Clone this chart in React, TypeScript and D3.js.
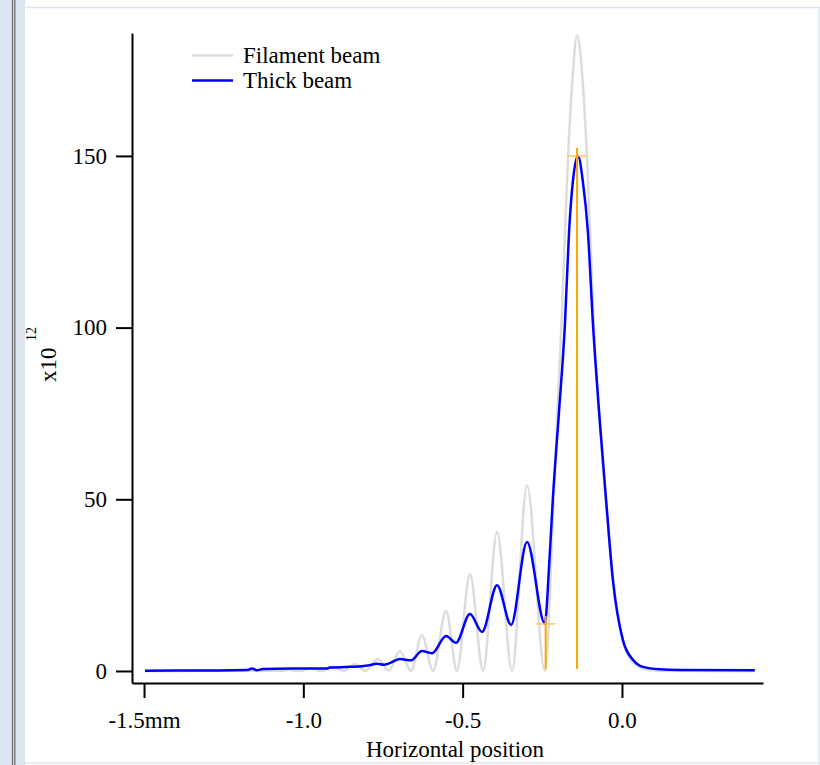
import React, { useRef, useEffect } from "react";
import * as d3 from "d3";

// values (x in mm, y in units of 1e12)
const filamentX = [
  -1.497, -1.325, -1.23, -1.199, -1.064, -1.045, -1.011, -0.976, -0.942, -0.907,
  -0.873, -0.838, -0.804, -0.766, -0.731, -0.697, -0.662, -0.628, -0.593, -0.552,
  -0.518, -0.477, -0.436, -0.392, -0.345, -0.298, -0.242, -0.232, -0.223, -0.21,
  -0.198, -0.188, -0.179, -0.169, -0.157, -0.141, -0.122, -0.11, -0.1, -0.088,
  -0.072, -0.053, -0.031, -0.009, 0.016, 0.047, 0.082, 0.135, 0.417,
];
const filamentY = [
  0, 0.05, 0.15, 0.05, 0.1, 0.3, 0.02, 0.7, 0.03, 1.2,
  0.03, 2.0, 0.04, 3.5, 0.05, 5.8, 0.05, 10.5, 0.05, 17.5,
  0.05, 28.2, 0.05, 40.5, 0.05, 54, 0.05, 10, 30, 60,
  85, 105, 128, 150, 170, 185, 170, 150, 128, 100,
  75, 52, 30, 14, 5, 1.5, 0.3, 0.05, 0,
];

const thickX = [
  -1.497, -1.325, -1.177, -1.161, -1.146, -1.127, -1.011, -0.926, -0.917, -0.854,
  -0.797, -0.769, -0.747, -0.731, -0.697, -0.662, -0.628, -0.596, -0.552, -0.521,
  -0.477, -0.439, -0.392, -0.348, -0.298, -0.242, -0.229, -0.217, -0.198, -0.179,
  -0.166, -0.151, -0.138, -0.122, -0.107, -0.091, -0.069, -0.05, -0.028, 0.003,
  0.035, 0.066, 0.119, 0.182, 0.417,
];
const thickY = [
  0.1, 0.15, 0.25, 0.75, 0.2, 0.6, 0.7, 0.7, 1.0, 1.2,
  1.6, 2.1, 1.8, 2.2, 3.5, 3.1, 5.8, 5.2, 10.2, 8.2,
  16.6, 11.4, 25, 13.4, 37.6, 13.8, 30, 50, 75, 101,
  128, 145, 150, 142, 128, 101, 72, 50, 26, 9,
  3.2, 1.2, 0.5, 0.3, 0.2,
];

const cursorX = [-0.141, -0.2395];
const cursorY = [150, 13.7];

const yTicks = [0, 50, 100, 150];
const xTicks = [-1.5, -1.0, -0.5, 0.0];
const xTickLabels = ["-1.5mm", "-1.0", "-0.5", "0.0"];

const legendNames = ["Filament beam", "Thick beam"];
const legendColors = ["#dcdcdc", "#0000ff"];

const FONT = "'Liberation Serif', 'Times New Roman', serif";

const App = () => {
  const svgRef = useRef(null);

  useEffect(() => {
    const width = 820;
    const height = 765;
    const svg = d3.select(svgRef.current).attr("width", width).attr("height", height);
    svg.selectAll("*").remove();

    // window frame around the plot
    svg.append("rect").attr("width", width).attr("height", height).attr("fill", "#fff");
    svg.append("rect").attr("x", 0).attr("y", 0).attr("width", 25).attr("height", height).attr("fill", "#dbe6f2");
    svg.append("line").attr("x1", 12.5).attr("x2", 12.5).attr("y1", 0).attr("y2", height).attr("stroke", "#6e6e6e").attr("stroke-width", 1.3);
    svg.append("line").attr("x1", 14.8).attr("x2", 14.8).attr("y1", 0).attr("y2", height).attr("stroke", "#6e6e6e").attr("stroke-width", 1.3);
    svg.append("line").attr("x1", 25).attr("x2", width).attr("y1", 7.5).attr("y2", 7.5).attr("stroke", "#dde6ef").attr("stroke-width", 1.5);
    svg.append("line").attr("x1", 819).attr("x2", 819).attr("y1", 7).attr("y2", height).attr("stroke", "#dde6ef").attr("stroke-width", 1.5);
    svg.append("line").attr("x1", 25).attr("x2", width).attr("y1", 763).attr("y2", 763).attr("stroke", "#dde6ef").attr("stroke-width", 1.5);

    const x = d3.scaleLinear().domain([-1.5377, 0.4426]).range([132, 763]);
    const y = d3.scaleLinear().domain([-3.5, 185.8]).range([683, 33]);

    const line = d3.line<[number, number]>()
      .x(d => x(d[0]))
      .y(d => y(d[1]))
      .curve(d3.curveMonotoneX);

    const filament = filamentX.map((v, i) => [v, filamentY[i]] as [number, number]);
    const thick = thickX.map((v, i) => [v, thickY[i]] as [number, number]);

    svg.append("path")
      .attr("d", line(filament))
      .attr("fill", "none")
      .attr("stroke", legendColors[0])
      .attr("stroke-width", 2.5);

    svg.append("path")
      .attr("d", line(thick))
      .attr("fill", "none")
      .attr("stroke", legendColors[1])
      .attr("stroke-width", 2.5);

    // cursors: drop line plus small cross
    cursorX.forEach((cx, i) => {
      const px = x(cx);
      const py = y(cursorY[i]);
      svg.append("line")
        .attr("x1", px - 9.5).attr("x2", px + 9.5)
        .attr("y1", py).attr("y2", py)
        .attr("stroke", "#ffc45a").attr("stroke-width", 1.5);
      svg.append("line")
        .attr("x1", px).attr("x2", px)
        .attr("y1", y(0.6)).attr("y2", py - 8)
        .attr("stroke", "#ffa500").attr("stroke-width", 2);
    });

    // axes
    const yAxis = svg.append("g")
      .attr("transform", "translate(132,0)")
      .call(d3.axisLeft(y).tickValues(yTicks).tickSize(16).tickSizeOuter(0).tickPadding(9).tickFormat(d => String(d)));
    const xAxis = svg.append("g")
      .attr("transform", "translate(0,683)")
      .call(d3.axisBottom(x).tickValues(xTicks).tickSize(15).tickSizeOuter(0).tickPadding(14).tickFormat((d, i) => xTickLabels[i]));

    [yAxis, xAxis].forEach(g => {
      g.select(".domain").attr("stroke", "#000").attr("stroke-width", 2);
      g.selectAll(".tick line").attr("stroke", "#000").attr("stroke-width", 2);
      g.selectAll(".tick text").attr("fill", "#000").attr("font-family", FONT).attr("font-size", 23);
    });

    svg.append("text")
      .attr("x", 455).attr("y", 757)
      .attr("text-anchor", "middle")
      .attr("font-family", FONT).attr("font-size", 23)
      .text("Horizontal position");

    svg.append("text")
      .attr("transform", "translate(56,382) rotate(-90)")
      .attr("font-family", FONT).attr("font-size", 23)
      .text("x10");
    svg.append("text")
      .attr("transform", "translate(36,341) rotate(-90)")
      .attr("font-family", FONT).attr("font-size", 14)
      .text("12");

    // legend
    legendNames.forEach((name, i) => {
      const ly = 55.5 + i * 25;
      svg.append("line")
        .attr("x1", 192).attr("x2", 233)
        .attr("y1", ly).attr("y2", ly)
        .attr("stroke", legendColors[i]).attr("stroke-width", 2.5);
      svg.append("text")
        .attr("x", 243).attr("y", ly + 7.5)
        .attr("font-family", FONT).attr("font-size", 23)
        .text(name);
    });
  }, []);

  return (
    <div style={{ position: "absolute", left: 0, top: 0 }}>
      <svg ref={svgRef} style={{ display: "block" }}></svg>
    </div>
  );
};

export default App;
